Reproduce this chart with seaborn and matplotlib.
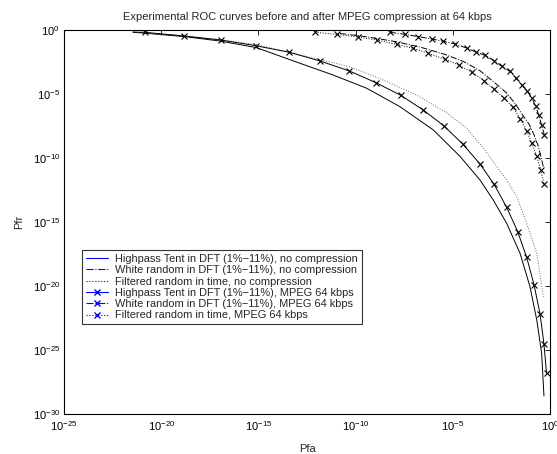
import numpy as np
import pandas as pd
import matplotlib
import matplotlib.pyplot as plt
from matplotlib.lines import Line2D
import seaborn as sns

matplotlib.use('Agg')
sns.set_style("white")
plt.rcParams['font.family'] = ['Liberation Sans', 'DejaVu Sans']
plt.rcParams['mathtext.default'] = 'regular'

# values, stored as log10 exponents
# Highpass Tent in DFT, no compression (solid)
tent_nc_pfa = [-21.45, -18.83, -16.98, -15.12, -12.86, -11.15, -9.43, -7.72, -6.00,
               -4.63, -3.60, -2.92, -2.23, -1.54, -1.03, -0.68, -0.43, -0.31]
tent_nc_pfr = [-0.17, -0.51, -0.86, -1.37, -2.60, -3.52, -4.55, -5.99, -7.81,
               -9.87, -11.72, -13.28, -15.10, -17.45, -20.05, -22.66, -25.26, -28.6]

# White random in DFT, no compression (dash-dot)
white_nc_pfa = [-10.80, -9.52, -7.97, -6.69, -5.40, -4.46, -3.60, -2.83, -2.23,
                -1.75, -1.40, -1.06, -0.81, -0.60, -0.43, -0.33]
white_nc_pfr = [-0.27, -0.51, -0.90, -1.33, -1.91, -2.45, -3.18, -4.14, -4.92,
                -5.84, -6.66, -7.40, -8.23, -9.09, -10.13, -10.78]

# Filtered random in time, no compression (dotted)
filt_nc_pfa = [-21.45, -18.83, -16.94, -15.12, -12.86, -10.29, -8.57, -6.86, -5.31,
               -4.29, -3.43, -2.23, -1.71, -1.20, -0.68, -0.34]
filt_nc_pfr = [-0.17, -0.45, -0.76, -1.13, -1.95, -2.87, -3.91, -5.08, -6.48,
               -7.66, -9.22, -11.72, -13.02, -15.10, -17.45, -20.84]

# Highpass Tent in DFT, MPEG 64 kbps (solid + x)
tent_mp_pfa = [-21.45, -20.83, -18.83, -16.94, -15.12, -13.41, -11.83, -10.32, -8.95,
               -7.68, -6.52, -5.45, -4.49, -3.60, -2.87, -2.23, -1.66, -1.20,
               -0.82, -0.51, -0.31, -0.18]
tent_mp_pfr = [-0.17, -0.18, -0.47, -0.78, -1.23, -1.74, -2.42, -3.20, -4.12,
               -5.10, -6.25, -7.50, -8.91, -10.47, -12.07, -13.85, -15.76, -17.76,
               -19.92, -22.19, -24.55, -26.8]

# White random in DFT, MPEG 64 kbps (dash-dot + x)
white_mp_pfa = [-8.23, -7.46, -6.77, -6.09, -5.49, -4.89, -4.29, -3.81, -3.34, -2.88,
                -2.48, -2.06, -1.75, -1.46, -1.17, -0.94, -0.74, -0.57, -0.43, -0.29]
white_mp_pfr = [-0.18, -0.34, -0.52, -0.70, -0.88, -1.09, -1.41, -1.72, -1.98, -2.40,
                -2.84, -3.23, -3.75, -4.27, -4.79, -5.31, -5.96, -6.66, -7.45, -8.18]

# Filtered random in time, MPEG 64 kbps (dotted + x)
filt_mp_pfa = [-12.09, -10.97, -9.86, -8.91, -7.89, -7.03, -6.26, -5.40, -4.70, -4.01,
               -3.41, -2.90, -2.38, -1.90, -1.54, -1.20, -0.94, -0.68, -0.48, -0.31]
filt_mp_pfr = [-0.18, -0.34, -0.55, -0.78, -1.12, -1.43, -1.82, -2.29, -2.73, -3.32,
               -3.95, -4.61, -5.30, -6.04, -6.93, -7.87, -8.83, -9.87, -10.91, -12.01]

labels = ['Highpass Tent in DFT (1%\u221211%), no compression',
          'White random in DFT (1%\u221211%), no compression',
          'Filtered random in time, no compression',
          'Highpass Tent in DFT (1%\u221211%), MPEG 64 kbps',
          'White random in DFT (1%\u221211%), MPEG 64 kbps',
          'Filtered random in time, MPEG 64 kbps']

series = [(tent_nc_pfa, tent_nc_pfr, '-', None),
          (white_nc_pfa, white_nc_pfr, '-.', None),
          (filt_nc_pfa, filt_nc_pfr, ':', None),
          (tent_mp_pfa, tent_mp_pfr, '-', 'x'),
          (white_mp_pfa, white_mp_pfr, '-.', 'x'),
          (filt_mp_pfa, filt_mp_pfr, ':', 'x')]

fig = plt.figure(figsize=(5.57, 4.54), dpi=100)
ax = fig.add_axes([64/557, 40/454, 486/557, 384/454])
ax.set_xscale('log')
ax.set_yscale('log')

for (px, py, ls, mk), lab in zip(series, labels):
    df = pd.DataFrame({'Pfa': 10.0 ** np.array(px), 'Pfr': 10.0 ** np.array(py)})
    kw = {}
    if mk:
        # seaborn defaults marker edges to white, which hides an 'x'
        kw = dict(marker=mk, markersize=4.5, markeredgewidth=0.8,
                  markeredgecolor='black', markerfacecolor='black')
        if px[0] == -21.45:
            kw['markevery'] = list(range(1, len(px)))
    color = '0.4' if (ls == ':' and mk is None) else 'black'
    sns.lineplot(data=df, x='Pfa', y='Pfr', ax=ax, color=color, linestyle=ls,
                 linewidth=0.7, sort=False, estimator=None, legend=False, **kw)

ax.set_xlim(1e-25, 1e0)
ax.set_ylim(1e-30, 1e0)
ax.set_xticks([10.0 ** e for e in range(-25, 1, 5)])
ax.set_yticks([10.0 ** e for e in range(-30, 1, 5)])
ax.minorticks_off()
ax.tick_params(direction='in', length=3.5, width=0.6, top=True, right=True,
               labelsize=8, colors='black')
ax.tick_params(axis='x', pad=3.5)
ax.tick_params(axis='y', pad=3)
for sp in ax.spines.values():
    sp.set_linewidth(0.8)
    sp.set_color('black')

ax.set_xlabel('Pfa', fontsize=8, labelpad=8)
ax.set_ylabel('Pfr', fontsize=8, labelpad=6)
ax.set_title('Experimental ROC curves before and after MPEG compression at 64 kbps',
             fontsize=8, pad=7)

# legend handles are blue in the reference, unlike the plotted lines
handles = [Line2D([], [], color='blue', linestyle=ls, marker=mk, markersize=4,
                  linewidth=0.8) for (_, _, ls, mk) in series]
leg = ax.legend(handles, labels, loc='upper left', bbox_to_anchor=(0.037, 0.427),
                borderaxespad=0, fontsize=7.9, frameon=True, fancybox=False,
                handlelength=2.0, handletextpad=0.7, labelspacing=0.12,
                borderpad=0.35, edgecolor='black')
leg.get_frame().set_linewidth(0.8)

plt.savefig('out.png', dpi=100)
